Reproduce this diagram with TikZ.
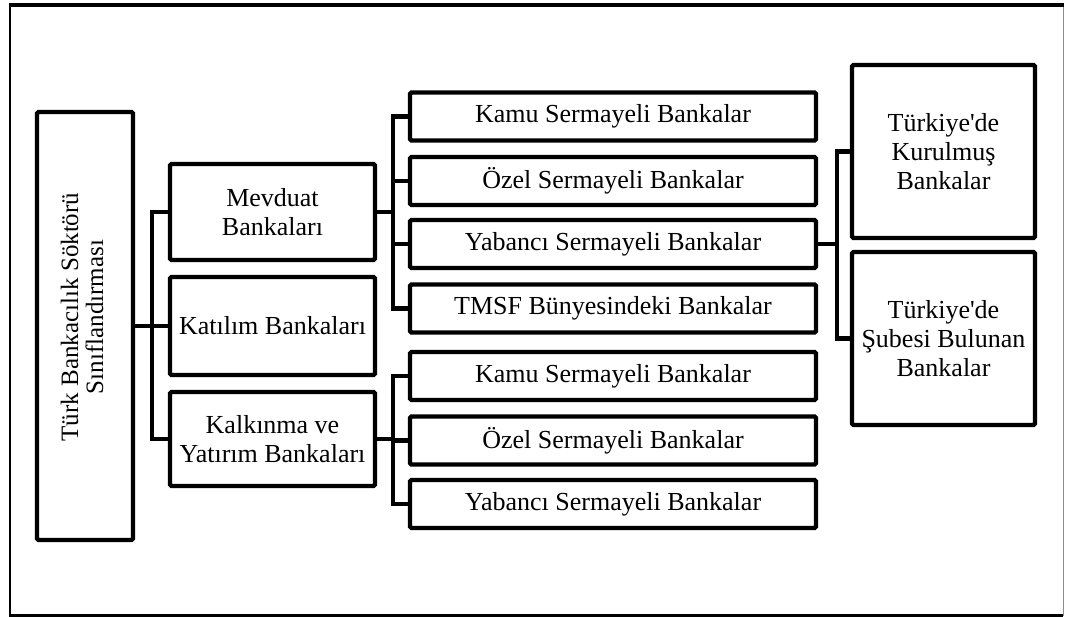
\documentclass[tikz,border=0pt]{standalone}
\usepackage{fontspec}
\setmainfont{Liberation Serif}[Ligatures=TeXOff]
\begin{document}
\begin{tikzpicture}[x=1pt,y=-1pt,
  box/.style={draw=black, line width=4.3pt, rounded corners=1.5pt, inner sep=0pt,
    align=center, font=\fontsize{26}{29}\selectfont},
  lvlone/.style={box, minimum width=205pt, minimum height=96pt},
  lvltwo/.style={box, minimum width=406pt, minimum height=48pt},
  lvlthree/.style={box, minimum width=183pt, minimum height=173pt},
  link/.style={line width=4.3pt, line join=miter}]
\useasboundingbox (0,0) rectangle (1065,617);

% outer frame
\draw[line width=2.5pt] (10,5) -- (10,615.5) -- (1063,615.5);
\draw[line width=0.8pt, black!45] (1063,5) -- (1063,615.5);
\draw[line width=4.5pt] (8.75,5) -- (1064,5);

% root
\node[box, minimum width=96pt, minimum height=428pt] (root) at (85,326) {};
\node[rotate=90, align=center, font=\fontsize{25}{25}\selectfont] (roottxt) at (82,317)
  {Türk Bankacılık Söktörü\\Sınıflandırması};

% first level
\node[lvlone] (mev) at (272.5,212) {Mevduat\\Bankaları};
\node[lvlone, minimum height=98pt] (kat) at (272.5,326) {Katılım Bankaları};
\node[lvlone, minimum height=94pt] (kal) at (272.5,439) {Kalkınma ve\\Yatırım Bankaları};

% second level
\node[lvltwo] (m1) at (613,116.5) {Kamu Sermayeli Bankalar};
\node[lvltwo] (m2) at (613,181)   {Özel Sermayeli Bankalar};
\node[lvltwo] (m3) at (613,244)   {Yabancı Sermayeli Bankalar};
\node[lvltwo] (m4) at (613,308.5) {TMSF Bünyesindeki Bankalar};
\node[lvltwo] (k1) at (613,376)   {Kamu Sermayeli Bankalar};
\node[lvltwo] (k2) at (613,440.5) {Özel Sermayeli Bankalar};
\node[lvltwo] (k3) at (613,504)   {Yabancı Sermayeli Bankalar};

% third level
\node[lvlthree] (y1) at (943.5,151.5) {Türkiye'de\\Kurulmuş\\Bankalar};
\node[lvlthree] (y2) at (943.5,338.5) {Türkiye'de\\Şubesi Bulunan\\Bankalar};

% connectors
\foreach \c in {mev,kat,kal}
  \draw[link] (root.east) -- ++(17,0) |- (\c.west);
\foreach \c in {m1,m2,m3,m4}
  \draw[link] (mev.east) -- ++(16,0) |- (\c.west);
\foreach \c in {k1,k2,k3}
  \draw[link] (kal.east) -- ++(16,0) |- (\c.west);
\foreach \c in {y1,y2}
  \draw[link] (m3.east) -- ++(19,0) |- (\c.west);
\end{tikzpicture}
\end{document}
